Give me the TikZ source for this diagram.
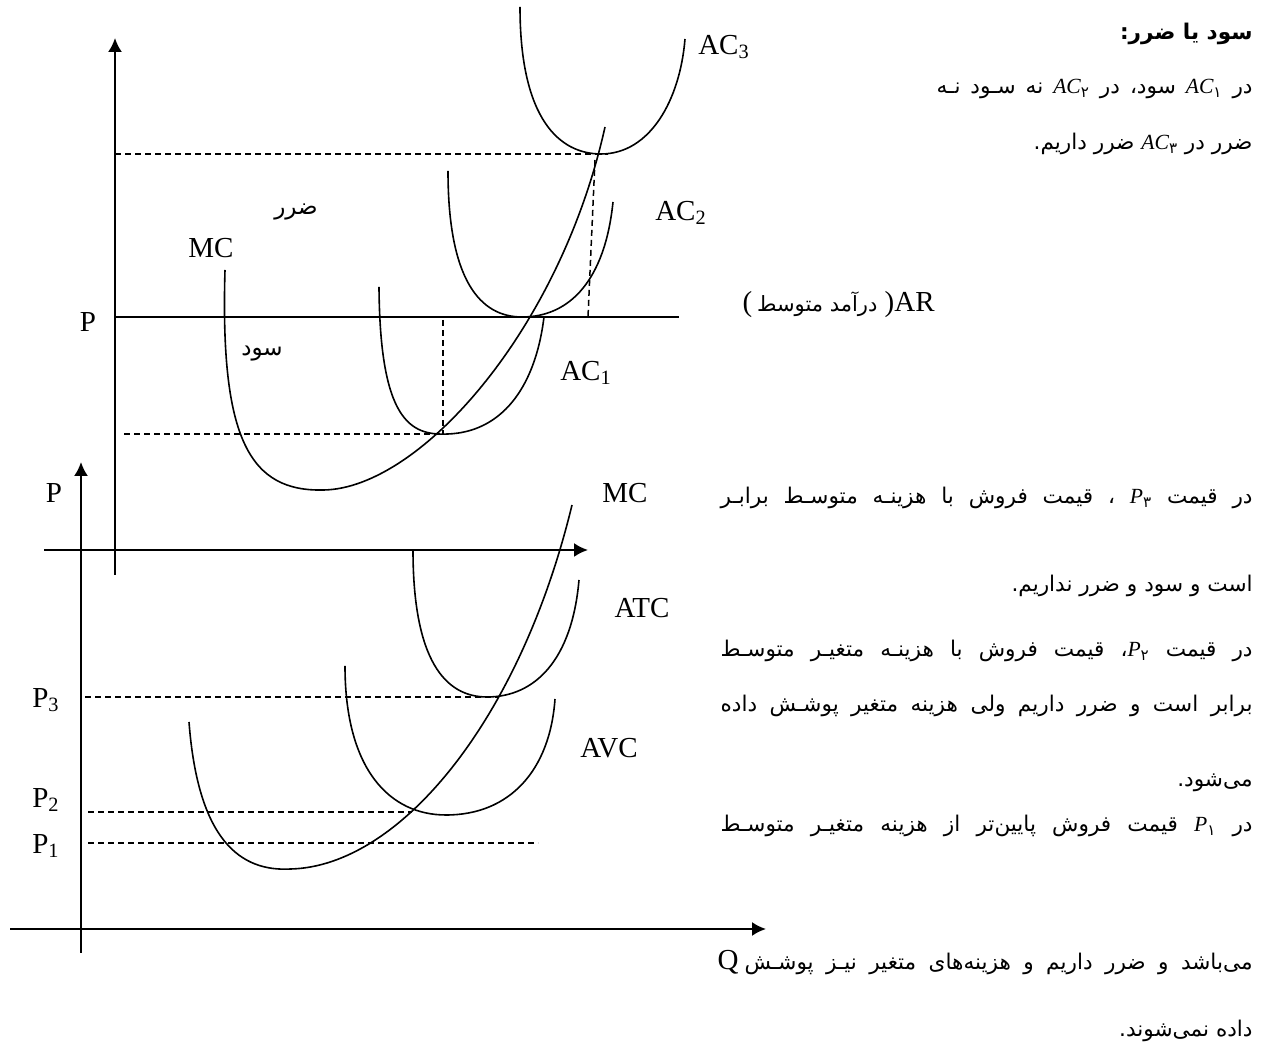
\documentclass[tikz,border=0pt]{standalone}
\usepackage{fontspec}
\setmainfont{Liberation Serif}
\newfontfamily\fa[Script=Arabic]{DejaVu Sans}
\TeXXeTstate=1
\usetikzlibrary{arrows.meta}
\newcommand\ltx[2]{\beginL{\rmfamily\itshape #1}\textsubscript{\fa #2}\endL}
\newcommand\jsp{\spaceskip=0.3em plus 1fil\relax}
\tikzset{
  axisline/.style={line width=1pt,-{Latex[length=7pt,width=7pt]}},
  plainline/.style={line width=1pt},
  costcurve/.style={line width=0.8pt},
  guide/.style={line width=0.75pt,dash pattern=on 3pt off 2pt},
  lbl/.style={font=\fontsize{14.5}{16}\selectfont,inner sep=0pt},
  falbl/.style={font=\fa\fontsize{11.5}{13}\selectfont,inner sep=0pt},
  fatxt/.style={font=\fa\fontsize{10.8}{12}\selectfont,inner sep=0pt,anchor=base east},
}
\begin{document}
\begin{tikzpicture}[x=0.5pt,y=-0.5pt]
\useasboundingbox (0,0) rectangle (1266,1052);
% ---------- upper diagram axes ----------
\coordinate (uy0) at (115,575);
\coordinate (uy1) at (115,38);
\draw[axisline] (uy0) -- (uy1);
\coordinate (ux0) at (44,550);
\coordinate (ux1) at (588,550);
\draw[axisline] (ux0) -- (ux1);
% AR line
\coordinate (ar0) at (115,317);
\coordinate (ar1) at (679,317);
\draw[plainline] (ar0) -- (ar1);
% ---------- lower diagram axes ----------
\coordinate (ly0) at (81,953);
\coordinate (ly1) at (81,462);
\draw[axisline] (ly0) -- (ly1);
\coordinate (lx0) at (10,929);
\coordinate (lx1) at (766,929);
\draw[axisline] (lx0) -- (lx1);
% ---------- upper dashed guides ----------
\coordinate (d1a) at (115,154); \coordinate (d1b) at (608,154);
\draw[guide] (d1a) -- (d1b);
\coordinate (d2a) at (595,160); \coordinate (d2b) at (588,317);
\draw[guide] (d2a) -- (d2b);
\coordinate (d3a) at (124,434); \coordinate (d3b) at (441,434);
\draw[guide] (d3a) -- (d3b);
\coordinate (d4a) at (443,320); \coordinate (d4b) at (443,434);
\draw[guide] (d4a) -- (d4b);
% ---------- upper curves ----------
% MC
\draw[costcurve] (225,270) .. controls (220,440) and (250,492) .. (324,490)
                 .. controls (420,488) and (560,330) .. (605,127);
% AC1
\draw[costcurve] (379,287) .. controls (380,420) and (410,436) .. (448,434)
                 .. controls (500,432) and (535,390) .. (544,317);
% AC2
\draw[costcurve] (448,171) .. controls (448,280) and (480,317) .. (522,317)
                 .. controls (570,317) and (605,280) .. (613,202);
% AC3
\draw[costcurve] (520,7) .. controls (520,120) and (560,154) .. (601,154)
                 .. controls (650,154) and (680,100) .. (685,39);
% ---------- lower dashed guides ----------
\coordinate (p3a) at (85,697); \coordinate (p3b) at (499,697);
\draw[guide] (p3a) -- (p3b);
\coordinate (p2a) at (88,812); \coordinate (p2b) at (412,812);
\draw[guide] (p2a) -- (p2b);
\coordinate (p1a) at (88,843); \coordinate (p1b) at (538,843);
\draw[guide] (p1a) -- (p1b);
% ---------- lower curves ----------
% MC
\draw[costcurve] (189,722) .. controls (198,840) and (240,872) .. (291,869)
                 .. controls (400,866) and (520,720) .. (572,505);
% ATC
\draw[costcurve] (413,550) .. controls (413,660) and (445,697) .. (487,697)
                 .. controls (535,697) and (572,660) .. (579,580);
% AVC
\draw[costcurve] (345,666) .. controls (345,770) and (390,815) .. (446,815)
                 .. controls (510,815) and (550,770) .. (555,699);
% ---------- labels of the diagrams ----------
\node[lbl] (lP) at (88,322) {P};
\node[lbl] (lMCu) at (211,248) {MC};
\node[lbl] (lAC1) at (586,373) {AC\textsubscript{1}};
\node[lbl] (lAC2) at (681,213) {AC\textsubscript{2}};
\node[lbl] (lAC3) at (724,47) {AC\textsubscript{3}};
\node[falbl] (lzarar) at (296,212) {\beginR ضرر\endR};
\node[falbl] (lsood) at (262,354) {\beginR سود\endR};
\node[inner sep=0pt,anchor=base east] (lAR) at (935,312)
  {\fontsize{14.5}{16}\selectfont
   (\,{\fa\fontsize{10.5}{12}\selectfont\beginR درآمد متوسط\endR}\ )AR};
\node[lbl] (lPl) at (54,493) {P};
\node[lbl] (lMCl) at (625,493) {MC};
\node[lbl] (lATC) at (642,608) {ATC};
\node[lbl] (lAVC) at (609,748) {AVC};
\node[lbl] (lP3) at (46,700) {P\textsubscript{3}};
\node[lbl] (lP2) at (46,800) {P\textsubscript{2}};
\node[lbl] (lP1) at (46,846) {P\textsubscript{1}};
\node[lbl] (lQ) at (728,962) {Q};
% ---------- Persian text ----------
\node[fatxt,font=\fa\bfseries\fontsize{10.8}{13}\selectfont] (t1) at (1253,40)
  {\beginR سود یا ضرر:\endR};
\node[fatxt] (t2) at (1253,94)
  {\hbox to 158pt{\jsp\beginR در \ltx{AC}{۱} سود، در \ltx{AC}{۲} نه سـود نـه\endR}};
\node[fatxt] (t3) at (1253,150)
  {\beginR ضرر در \ltx{AC}{۳} ضرر داریم.\endR};
\node[fatxt] (t5) at (1253,504)
  {\hbox to 266pt{\jsp\beginR در قیمت \ltx{P}{۳} ، قیمت فروش با هزینـه متوسـط برابـر\endR}};
\node[fatxt] (t6) at (1253,592)
  {\beginR است و سود و ضرر نداریم.\endR};
\node[fatxt] (t7) at (1253,657)
  {\hbox to 266pt{\jsp\beginR در قیمت \ltx{P}{۲}، قیمت فروش با هزینـه متغیـر متوسـط\endR}};
\node[fatxt] (t8) at (1253,712)
  {\hbox to 266pt{\jsp\beginR برابر است و ضرر داریم ولی هزینه متغیر پوشـش داده\endR}};
\node[fatxt] (t9) at (1253,787)
  {\beginR می‌شود.\endR};
\node[fatxt] (t10) at (1253,832)
  {\hbox to 266pt{\jsp\beginR در \ltx{P}{۱} قیمت فروش پایین‌تر از هزینه متغیـر متوسـط\endR}};
\node[fatxt] (t11) at (1253,970)
  {\hbox to 254pt{\jsp\beginR می‌باشد و ضرر داریم و هزینه‌های متغیر نیـز پوشـش\endR}};
\node[fatxt] (t12) at (1253,1037)
  {\beginR داده نمی‌شوند.\endR};
\end{tikzpicture}
\end{document}
